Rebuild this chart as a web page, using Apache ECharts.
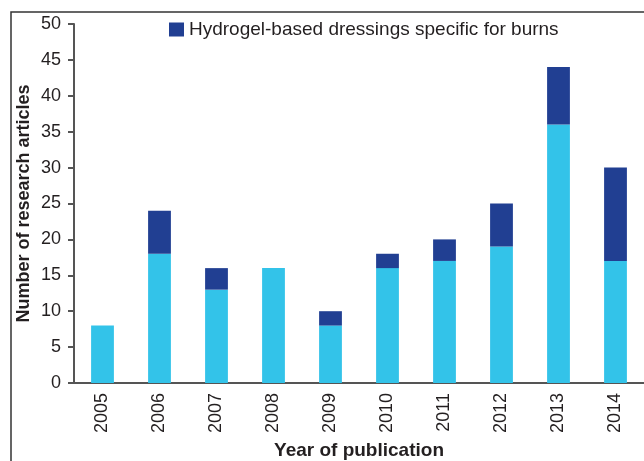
<!DOCTYPE html>
<html><head><meta charset="utf-8">
<script src="https://cdn.jsdelivr.net/npm/echarts@6/dist/echarts.min.js"></script>
<style>html,body{margin:0;padding:0;background:#fff}#c{width:644px;height:461px}</style>
</head><body><div id="c"></div>
<script>
const years = ['2005','2006','2007','2008','2009','2010','2011','2012','2013','2014'];
const generalHydrogel = [8, 18, 13, 16, 8, 16, 17, 19, 36, 17];
const burnSpecific = [0, 6, 3, 0, 2, 2, 3, 6, 8, 13];
const yTicks = {min: 0, max: 50, interval: 5};

const chart = echarts.init(document.getElementById('c'));
const axisCol = '#555555';
const txtCol = '#231f20';
const font = 'Liberation Sans, Arial, Helvetica, sans-serif';
chart.setOption({
  animation: false,
  graphic: [{type: 'rect', shape: {x: 11, y: 12, width: 800, height: 600}, style: {fill: 'none', stroke: '#333', lineWidth: 1.5}, z: 0}],
  legend: {
    data: [{name: 'Hydrogel-based dressings specific for burns', icon: 'rect'}],
    top: 15, left: 164,
    itemWidth: 15, itemHeight: 14, itemGap: 6,
    textStyle: {fontSize: 19, color: txtCol, fontFamily: font}
  },
  grid: {left: 74, right: 0, top: 24, bottom: 78, containLabel: false, outerBoundsMode: 'none'},
  xAxis: {
    type: 'category', data: years,
    name: 'Year of publication', nameLocation: 'middle', nameGap: 58, nameMoveOverlap: false,
    nameTextStyle: {fontSize: 19, fontWeight: 'bold', color: txtCol, fontFamily: font},
    axisLine: {lineStyle: {color: axisCol, width: 2}},
    axisTick: {length: 6, lineStyle: {color: axisCol, width: 2}},
    axisLabel: {rotate: 90, margin: 10, fontSize: 18, color: txtCol, fontFamily: font}
  },
  yAxis: {
    type: 'value', min: yTicks.min, max: yTicks.max, interval: yTicks.interval,
    name: 'Number of research articles', nameLocation: 'middle', nameGap: 41, nameMoveOverlap: false,
    nameTextStyle: {fontSize: 18, fontWeight: 'bold', color: txtCol, fontFamily: font},
    axisLine: {show: true, lineStyle: {color: axisCol, width: 2}},
    axisTick: {show: true, length: 6, lineStyle: {color: axisCol, width: 2}},
    splitLine: {show: false},
    axisLabel: {margin: 13, fontSize: 18, color: txtCol, fontFamily: font}
  },
  series: [
    {name: 'Hydrogel-based dressings', type: 'bar', stack: 'a', data: generalHydrogel, barWidth: '40%', itemStyle: {color: '#33c3e9'}},
    {name: 'Hydrogel-based dressings specific for burns', type: 'bar', stack: 'a', data: burnSpecific, barWidth: '40%', itemStyle: {color: '#213f92'}}
  ]
});
</script></body></html>
